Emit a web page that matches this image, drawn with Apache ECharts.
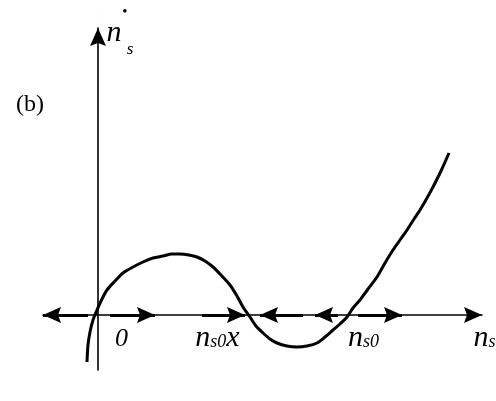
<!DOCTYPE html>
<html>
<head>
<meta charset="utf-8">
<script src="https://cdn.jsdelivr.net/npm/echarts@6/dist/echarts.min.js"></script>
<style>
  html, body { margin: 0; padding: 0; background: #fff; }
  #c { width: 496px; height: 401px; }
</style>
</head>
<body>
<div id="c"></div>
<script>
// Rate curve dns/dt versus ns, sampled along the curve
const curveX = [-11, -10, -8, -5, -1, 4, 9, 17, 25, 35, 45, 55, 65, 74, 82, 91, 99, 107, 115, 123, 132, 139, 145, 152, 158, 165, 172, 179, 189, 199, 209, 219, 227, 235, 242, 249, 255, 262, 270, 279, 287, 295, 302, 309, 316, 322, 329, 335, 343, 351];
const curveY = [-47, -30, -17, -5, 5, 16, 25, 34, 42, 48, 53, 57, 59, 61, 61, 60, 58, 54, 48, 40, 30, 19, 8, -2, -11, -18, -24, -28, -31, -32, -31, -28, -22, -15, -9, -2, 7, 15, 26, 38, 52, 65, 75, 85, 96, 105, 117, 128, 144, 162];

// Flow arrows on the ns axis: tail and tip positions
const flowFrom = [-10, 12, 104, 205, 240, 260];
const flowTo = [-55, 57, 147, 162, 217, 304];

// Labels under the ns axis: position and pieces [text, small?]
const tickX = [23.5, 119.5, 265.5, 386.5];
const tickY = -33;
const tickParts = [
  [['0', false]],
  [['n', false], ['s0', true], ['x', false]],
  [['n', false], ['s0', true]],
  [['n', false], ['s', true]]
];

// Axis ranges
const X_MIN = -55, X_MAX = 384, Y_MIN = -55, Y_MAX = 287;
const GRID = { left: 43, right: 14, top: 28, bottom: 31 };
const W = 496, H = 401;

const FAMILY = '"Liberation Serif", "Times New Roman", serif';
// arrowhead whose tip sits at the centre of the symbol box
const ARROW = 'path://M0,18 L8,36 L0,33 L-8,36 Z M0,18 L0.01,0 L-0.01,0 Z';

// data -> pixel, same linear mapping as the grid's axes
const toPx = (x, y) => [
  GRID.left + (x - X_MIN) / (X_MAX - X_MIN) * (W - GRID.left - GRID.right),
  GRID.top + (Y_MAX - y) / (Y_MAX - Y_MIN) * (H - GRID.top - GRID.bottom)
];

// Text helpers
const measure = document.createElement('canvas').getContext('2d');
const textWidth = (t, size, italic) => {
  measure.font = (italic ? 'italic ' : '') + size + 'px "Liberation Serif"';
  return measure.measureText(t).width;
};

// one text piece (title component) with its baseline at baseY and left edge at x
const piece = (t, size, italic, x, baseY) => ({
  text: t,
  left: x,
  top: baseY - 0.84 * size,
  padding: 0,
  textStyle: {
    fontFamily: FAMILY, fontSize: size, fontStyle: italic ? 'italic' : 'normal',
    fontWeight: 'normal', color: '#000'
  }
});

// label made of pieces sharing one baseline, centred on cx
function label(parts, cx, baseY, bigSize, smallSize) {
  const ps = parts.map(([t, small]) => {
    const size = small ? smallSize : bigSize;
    return { t, size, w: textWidth(t, size, true) };
  });
  const total = ps.reduce((a, p) => a + p.w, 0);
  let cursor = cx - total / 2;
  return ps.map(p => {
    const el = piece(p.t, p.size, true, cursor, baseY);
    cursor += p.w;
    return el;
  });
}

let texts = [];
tickX.forEach((x, i) => {
  const p = toPx(x, tickY);
  texts = texts.concat(label(tickParts[i], p[0], p[1], i === 0 ? 26 : 30, 18));
});

// axis name: n with a dot above and subscript s
texts = texts.concat(label([['n', false]], 114, 43, 30, 17));
texts = texts.concat(label([['s', true]], 130, 55, 30, 17));
texts.push(piece('•', 15, false, 125 - textWidth('•', 15, false) / 2, 17));
// panel tag
texts.push(piece('(b)', 24, false, 30 - textWidth('(b)', 24, false) / 2, 113));

const axisCommon = {
  type: 'value',
  axisLine: {
    show: true,
    onZero: true,
    symbol: ['none', ARROW],
    symbolSize: [16, 36],
    lineStyle: { color: '#000', width: 1.6 }
  },
  axisTick: { show: false },
  axisLabel: { show: false },
  splitLine: { show: false }
};

const chart = echarts.init(document.getElementById('c'), null, { renderer: 'canvas' });
chart.setOption({
  animation: false,
  backgroundColor: '#fff',
  textStyle: { fontFamily: FAMILY },
  title: texts,
  grid: GRID,
  xAxis: Object.assign({}, axisCommon, { min: X_MIN, max: X_MAX }),
  yAxis: Object.assign({}, axisCommon, { min: Y_MIN, max: Y_MAX }),
  series: [
    {
      type: 'line',
      data: curveX.map((x, i) => [x, curveY[i]]),
      smooth: 0.3,
      symbol: 'none',
      lineStyle: { color: '#000', width: 3 },
      clip: false,
      markLine: {
        silent: true,
        animation: false,
        symbol: ['none', ARROW],
        symbolSize: [16, 36],
        label: { show: false },
        lineStyle: { color: '#000', width: 3, type: 'solid' },
        emphasis: { disabled: true },
        data: flowFrom.map((f, i) => [{ coord: [f, 0] }, { coord: [flowTo[i], 0] }])
      }
    }
  ]
});
</script>
</body>
</html>
